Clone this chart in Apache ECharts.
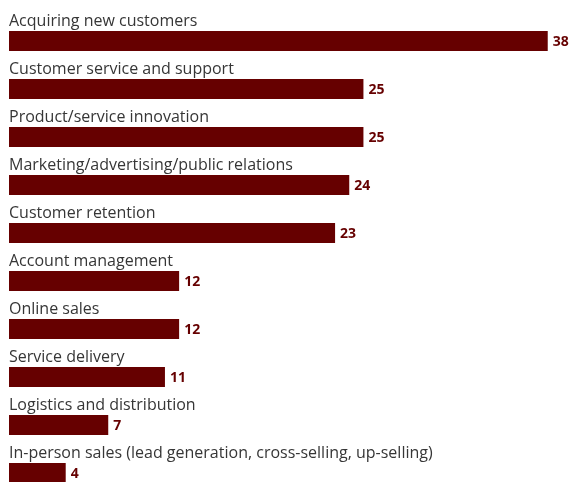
<!DOCTYPE html>
<html>
<head>
<meta charset="utf-8">
<script src="https://cdn.jsdelivr.net/npm/echarts@6/dist/echarts.min.js"></script>
<style>
  html, body { margin: 0; padding: 0; background: #fff; }
  #chart { width: 569px; height: 482px; }
</style>
</head>
<body>
<div id="chart"></div>
<script>
// Priority areas, share of respondents
const categories = [
  'Acquiring new customers',
  'Customer service and support',
  'Product/service innovation',
  'Marketing/advertising/public relations',
  'Customer retention',
  'Account management',
  'Online sales',
  'Service delivery',
  'Logistics and distribution',
  'In-person sales (lead generation, cross-selling, up-selling)'
];
const values = [38, 25, 25, 24, 23, 12, 12, 11, 7, 4];

const chart = echarts.init(document.getElementById('chart'));
chart.setOption({
  animation: false,
  // categories sit on tick positions, 48px apart
  grid: { left: 9, right: 0, top: 41, bottom: 9, containLabel: false },
  xAxis: {
    type: 'value', min: 0, max: 39.5, show: false
  },
  yAxis: {
    type: 'category',
    data: categories,
    inverse: true,
    boundaryGap: false,
    axisLine: { show: false },
    axisTick: { show: false },
    splitLine: { show: false },
    axisLabel: {
      inside: true,
      margin: 0,
      align: 'left',
      verticalAlign: 'bottom',
      lineHeight: 20,
      padding: [0, 0, 10, 0],
      color: '#363636',
      fontFamily: 'Open Sans',
      fontSize: 16
    }
  },
  series: [{
    type: 'bar',
    data: values,
    barWidth: 20,
    itemStyle: { color: '#660000' },
    label: {
      show: true,
      position: 'right',
      distance: 5,
      offset: [0, 1],
      color: '#660000',
      fontWeight: 'bold',
      fontFamily: 'Open Sans',
      fontSize: 14
    }
  }]
});
</script>
</body>
</html>
